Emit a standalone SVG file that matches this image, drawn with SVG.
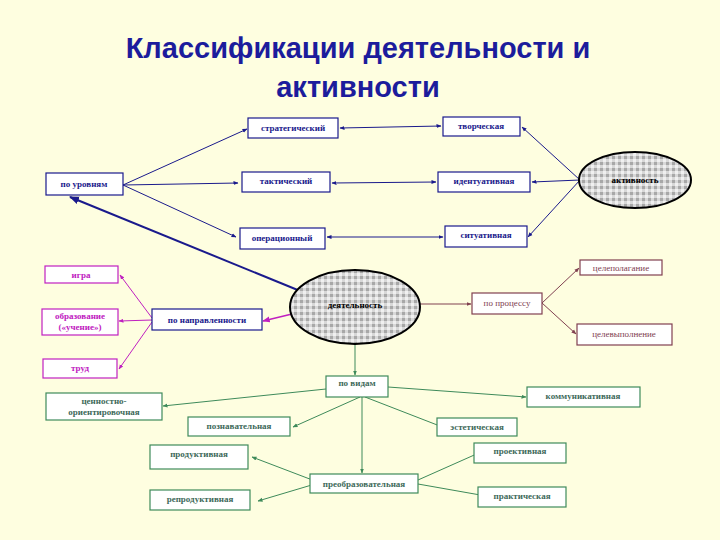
<svg xmlns="http://www.w3.org/2000/svg" width="720" height="540" viewBox="0 0 720 540">
<defs>
<pattern id="chk" width="6" height="6" patternUnits="userSpaceOnUse"><rect width="6" height="6" fill="#d8d8d8"/><rect width="3" height="3" fill="#a8a8a8"/><rect x="3" y="3" width="3" height="3" fill="#f0f0f0"/></pattern>
<marker id="ab" viewBox="0 0 10 10" refX="9" refY="5" markerWidth="5" markerHeight="5" orient="auto-start-reverse"><path d="M0,1L10,5L0,9z" fill="#1a1a8c"/></marker>
<marker id="am" viewBox="0 0 10 10" refX="9" refY="5" markerWidth="5" markerHeight="5" orient="auto-start-reverse"><path d="M0,1L10,5L0,9z" fill="#c020c0"/></marker>
<marker id="ar" viewBox="0 0 10 10" refX="9" refY="5" markerWidth="5" markerHeight="5" orient="auto-start-reverse"><path d="M0,1L10,5L0,9z" fill="#804050"/></marker>
<marker id="ag" viewBox="0 0 10 10" refX="9" refY="5" markerWidth="5" markerHeight="5" orient="auto-start-reverse"><path d="M0,1L10,5L0,9z" fill="#3e8a5a"/></marker>
</defs>
<style>
text{font-family:"Liberation Serif",serif;font-size:9px;text-anchor:middle;font-weight:bold}
.t{font-family:"Liberation Sans",sans-serif;font-size:29px;font-weight:bold;fill:#1c1c9c}
.b rect{fill:#fff;stroke:#1a1a8c;stroke-width:1.2}.b text{fill:#1a1a8c}
.m rect{fill:#fff;stroke:#c020c0;stroke-width:1.2}.m text{fill:#c020c0}
.r rect{fill:#fff;stroke:#804050;stroke-width:1.2}.r text{fill:#804050;font-weight:normal}
.g rect{fill:#fff;stroke:#3e8a5a;stroke-width:1.2}.g text{fill:#3e6a5a}
ellipse{fill:url(#chk);stroke:#000;stroke-width:2}
.lb{stroke:#1a1a8c;fill:none;stroke-width:1;marker-end:url(#ab)}
.lm{stroke:#c020c0;fill:none;stroke-width:1;marker-end:url(#am)}
.lr{stroke:#804050;fill:none;stroke-width:1;marker-end:url(#ar)}
.lg{stroke:#3e8a5a;fill:none;stroke-width:1;marker-end:url(#ag)}
</style>
<rect width="720" height="540" fill="#fefee0"/>
<text class="t" x="358" y="58">Классификации деятельности и</text>
<text class="t" x="358" y="97">активности</text>
<g id="connectors">
<path class="lb" d="M123,185L247,129"/>
<path class="lb" d="M123,185L238,183"/>
<path class="lb" d="M123,185L236,237"/>
<path class="lb" d="M340,128L441,126" marker-start="url(#ab)"/>
<path class="lb" d="M332,183L436,182" marker-start="url(#ab)"/>
<path class="lb" d="M327,237L443,237" marker-start="url(#ab)"/>
<path class="lb" d="M580,180L522,127"/>
<path class="lb" d="M580,180L532,182"/>
<path class="lb" d="M580,180L528,237"/>
<path class="lb" d="M305,293L70,197" style="stroke-width:2"/>
<path class="lm" d="M292,314L263,321" style="stroke-width:1.5"/>
<path class="lm" d="M152,318L120,275"/>
<path class="lm" d="M152,320L119,321"/>
<path class="lm" d="M152,322L119,369"/>
<path class="lr" d="M420,304L471,304"/>
<path class="lr" d="M542,303L579,268"/>
<path class="lr" d="M542,303L576,334"/>
<path class="lg" d="M355,344L355,375"/>
<path class="lg" d="M326,389L163,406"/>
<path class="lg" d="M388,387L526,397"/>
<path class="lg" d="M360,397L293,427"/>
<path class="lg" d="M365,397L445,428"/>
<path class="lg" d="M362,397L362,473"/>
<path class="lg" d="M315,481L252,457"/>
<path class="lg" d="M315,484L258,501"/>
<path class="lg" d="M418,480L481,452"/>
<path class="lg" d="M418,484L486,496"/>
</g>
<g id="strat" class="b"><rect x="248" y="118" width="90" height="20"/><text x="293" y="131">стратегический</text></g>
<g id="tvor" class="b"><rect x="443" y="117" width="77" height="19"/><text x="481" y="129">творческая</text></g>
<g id="urov" class="b"><rect x="46" y="173" width="77" height="22"/><text x="84" y="187">по уровням</text></g>
<g id="takt" class="b"><rect x="242" y="172" width="88" height="20"/><text x="286" y="184">тактический</text></g>
<g id="ident" class="b"><rect x="438" y="172" width="92" height="20"/><text x="484" y="184">идентуативная</text></g>
<g id="aktiv"><ellipse cx="635" cy="180" rx="56" ry="28"/><text x="635" y="183" style="fill:#000">активность</text></g>
<g id="oper" class="b"><rect x="240" y="228" width="85" height="21"/><text x="282" y="241">операционный</text></g>
<g id="sit" class="b"><rect x="445" y="226" width="82" height="21"/><text x="486" y="238">ситуативная</text></g>
<g id="deyat"><ellipse cx="355" cy="307" rx="65" ry="37"/><text x="355" y="308" style="fill:#000">деятельность</text></g>
<g id="igra" class="m"><rect x="45" y="266" width="73" height="17"/><text x="81" y="278">игра</text></g>
<g id="obraz" class="m"><rect x="42" y="309" width="76" height="26"/><text x="80" y="319">образование</text><text x="80" y="330">(«учение»)</text></g>
<g id="napr" class="b"><rect x="152" y="309" width="110" height="21"/><text x="207" y="323">по направленности</text></g>
<g id="trud" class="m"><rect x="43" y="359" width="74" height="19"/><text x="80" y="371">труд</text></g>
<g id="proc" class="r"><rect x="472" y="293" width="70" height="21"/><text x="507" y="306">по процессу</text></g>
<g id="celpol" class="r"><rect x="580" y="260" width="82" height="15"/><text x="621" y="271">целеполагание</text></g>
<g id="celvyp" class="r"><rect x="577" y="324" width="95" height="21"/><text x="624" y="337">целевыполнение</text></g>
<g id="vidam" class="g"><rect x="326" y="376" width="62" height="21"/><text x="357" y="386">по видам</text></g>
<g id="cenn" class="g"><rect x="46" y="393" width="116" height="27"/><text x="104" y="404">ценностно-</text><text x="104" y="415">ориентировочная</text></g>
<g id="komm" class="g"><rect x="527" y="387" width="113" height="20"/><text x="583" y="399">коммуникативная</text></g>
<g id="pozn" class="g"><rect x="188" y="417" width="102" height="19"/><text x="239" y="429">познавательная</text></g>
<g id="estet" class="g"><rect x="437" y="418" width="80" height="18"/><text x="477" y="430">эстетическая</text></g>
<g id="prod" class="g"><rect x="150" y="445" width="98" height="24"/><text x="199" y="457">продуктивная</text></g>
<g id="proekt" class="g"><rect x="474" y="443" width="92" height="20"/><text x="520" y="454">проективная</text></g>
<g id="preob" class="g"><rect x="310" y="474" width="108" height="19"/><text x="364" y="487">преобразовательная</text></g>
<g id="reprod" class="g"><rect x="150" y="490" width="100" height="20"/><text x="200" y="502">репродуктивная</text></g>
<g id="prakt" class="g"><rect x="478" y="487" width="88" height="20"/><text x="522" y="499">практическая</text></g>
</svg>
